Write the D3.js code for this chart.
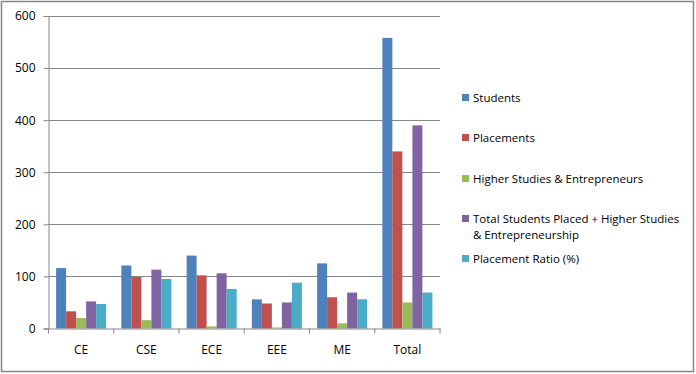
<!DOCTYPE html>
<html>
<head>
<meta charset="utf-8">
<script src="https://cdn.jsdelivr.net/npm/d3@7.9.0/dist/d3.min.js"></script>
<style>
  body { margin: 0; background: #fff; }
  text { font-family: "Open Sans", sans-serif; fill: #000; }
</style>
</head>
<body>
<div id="chart"></div>
<script>
const categories = ["CE", "CSE", "ECE", "EEE", "ME", "Total"];
const seriesNames = [
  "Students",
  "Placements",
  "Higher Studies & Entrepreneurs",
  "Total Students Placed + Higher Studies & Entrepreneurship",
  "Placement Ratio (%)"
];
const students = [116, 121, 140, 56, 125, 558];
const placements = [33, 99, 102, 48, 60, 340];
const higherStudies = [20, 16, 4, 2, 10, 50];
const totalPlaced = [52, 113, 106, 50, 69, 390];
const placementRatio = [47, 95, 76, 88, 56, 69];
const yTicks = [0, 100, 200, 300, 400, 500, 600];
const colors = ["#4F81BD", "#C0504D", "#9BBB59", "#8064A2", "#4BACC6"];

const seriesValues = [students, placements, higherStudies, totalPlaced, placementRatio];

const width = 696;
const height = 374;
const plot = { left: 48.5, right: 440, top: 16, bottom: 328.5 };

const svg = d3.select('#chart')
  .append('svg')
  .attr('width', width)
  .attr('height', height);

// outer chart border
svg.append('rect')
  .attr('x', 1.5).attr('y', 1.5)
  .attr('width', 692).attr('height', 370)
  .attr('fill', 'none')
  .attr('stroke', '#868686')
  .attr('stroke-width', 1.5);

const x0 = d3.scaleBand()
  .domain(categories)
  .range([plot.left, plot.right]);

const x1 = d3.scaleBand()
  .domain(d3.range(seriesNames.length))
  .range([0, x0.bandwidth()])
  .paddingOuter(0.76);

const y = d3.scaleLinear()
  .domain([0, 600])
  .range([plot.bottom, plot.top]);

// gridlines
svg.append('g')
  .selectAll('line')
  .data(yTicks.slice(1))
  .join('line')
  .attr('x1', plot.left).attr('x2', plot.right)
  .attr('y1', d => Math.round(y(d)) + 0.5).attr('y2', d => Math.round(y(d)) + 0.5)
  .attr('stroke', '#868686');

// bars
const groups = svg.append('g')
  .selectAll('g')
  .data(categories)
  .join('g')
  .attr('transform', d => `translate(${x0(d)},0)`);

groups.selectAll('rect')
  .data((c, i) => seriesValues.map((vals, s) => ({ s, v: vals[i] })))
  .join('rect')
  .attr('x', d => x1(d.s))
  .attr('width', x1.bandwidth())
  .attr('y', d => y(d.v))
  .attr('height', d => y(0) - y(d.v))
  .attr('fill', d => colors[d.s]);

// y axis
const yAxis = svg.append('g')
  .attr('transform', `translate(${plot.left},0)`)
  .call(d3.axisLeft(y).tickValues(yTicks).tickSize(5).tickPadding(8));
yAxis.select('.domain').attr('stroke', '#868686');
yAxis.selectAll('.tick line').attr('stroke', '#868686');
yAxis.selectAll('.tick text').style('font-size', '12px').style('font-family', '"Open Sans", sans-serif');

// x axis
const xAxis = svg.append('g')
  .attr('transform', `translate(0,${plot.bottom})`)
  .call(d3.axisBottom(x0).tickSize(0).tickPadding(17));
xAxis.select('.domain').attr('stroke', '#868686');
xAxis.selectAll('.tick text').style('font-size', '12px').style('font-family', '"Open Sans", sans-serif');
svg.append('g')
  .selectAll('line')
  .data(d3.range(categories.length + 1))
  .join('line')
  .attr('x1', i => plot.left + i * x0.step())
  .attr('x2', i => plot.left + i * x0.step())
  .attr('y1', plot.bottom).attr('y2', plot.bottom + 5)
  .attr('stroke', '#868686');

// legend
const legendY = [98, 138, 179, 219, 259];
const legend = svg.append('g')
  .selectAll('g')
  .data(seriesNames)
  .join('g')
  .attr('transform', (d, i) => `translate(462,${legendY[i]})`);

legend.append('rect')
  .attr('x', 0).attr('y', -4)
  .attr('width', 7).attr('height', 7)
  .attr('fill', (d, i) => colors[i]);

legend.append('text')
  .attr('x', 11)
  .attr('dy', '0.35em')
  .style('font-size', '11.5px')
  .each(function (d) {
    const t = d3.select(this);
    if (d.startsWith('Total Students')) {
      t.append('tspan').attr('x', 11).text('Total Students Placed + Higher Studies');
      t.append('tspan').attr('x', 11).attr('dy', '16').text('& Entrepreneurship');
    } else {
      t.text(d);
    }
  });
</script>
</body>
</html>
